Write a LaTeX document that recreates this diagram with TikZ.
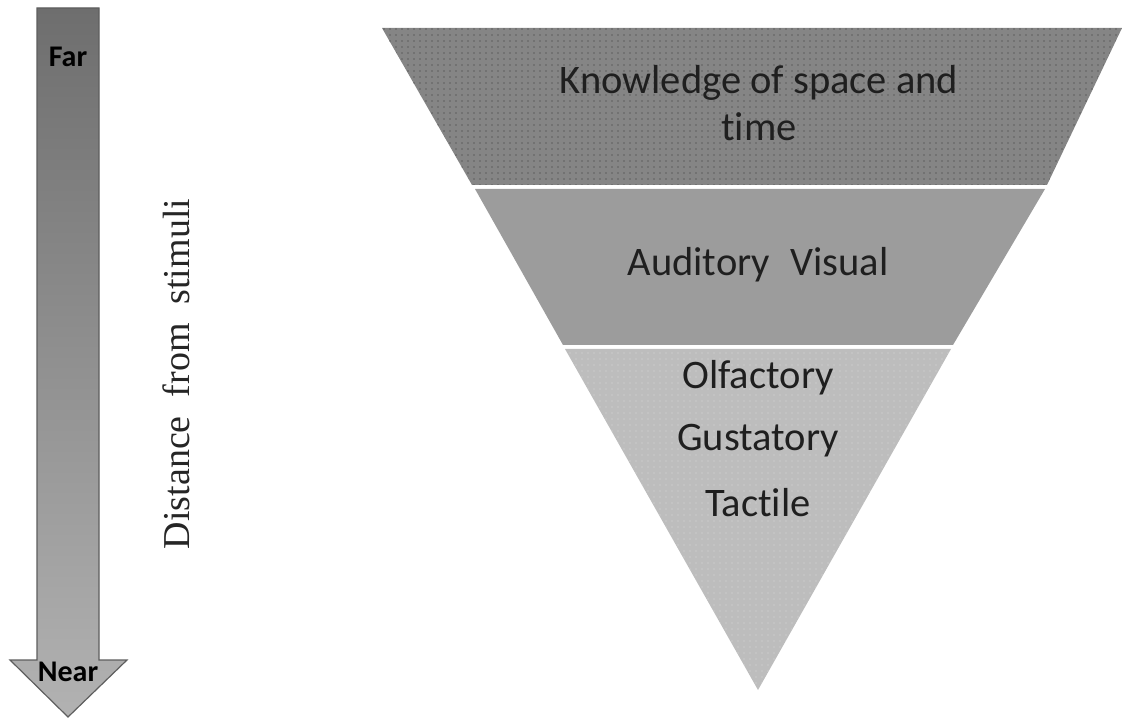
\documentclass[tikz,border=0pt]{standalone}
\usepackage{fontspec}
\setmainfont{Carlito}[Ligatures=NoCommon]
\newfontfamily\timesfont{Liberation Serif}
\usetikzlibrary{positioning, patterns.meta}

\definecolor{arrowtop}{HTML}{6E6E6E}
\definecolor{arrowbot}{HTML}{B2B2B2}
\definecolor{arrowline}{HTML}{5E5E5E}
\definecolor{bandtop}{HTML}{858585}
\definecolor{bandmid}{HTML}{9C9C9C}
\definecolor{bandlow}{HTML}{BDBDBD}

\begin{document}
\begin{tikzpicture}[
    x=1pt, y=-1pt,
    lvl/.style={font=\fontsize{40.5}{47}\selectfont, align=center, text=black!88},
    endlbl/.style={font=\fontsize{30}{36}\bfseries\selectfont, text=black},
    stipple/.style={pattern={Dots[distance=6pt, radius=0.7pt]}, pattern color=#1},
    node distance=62.5pt
  ]
  \useasboundingbox (0,0) rectangle (1122,719);

  % arrow on the left
  \shade[top color=arrowtop, bottom color=arrowbot, draw=arrowline, line width=1.2pt]
    (37,8) -- (99,8) -- (99,660) -- (127,660) -- (68,717) -- (10,660) -- (37,660) -- cycle;
  \node[endlbl] (far) at (68,57) {Far};
  \node[endlbl] (near) at (68,672) {Near};
  \node[rotate=90, font=\timesfont\fontsize{38}{44}\selectfont, text=black!85] (dist) at (176,374)
    {Distance\ \ from\ \ stimuli};

  % the three bands
  \fill[bandtop] (382,28) -- (1122,28) -- (1047,185) -- (472,185) -- cycle;
  \path[stipple=black!60!bandtop] (382,28) -- (1122,28) -- (1047,185) -- (472,185) -- cycle;
  \fill[bandmid] (475,189) -- (1045,189) -- (953,345) -- (563,345) -- cycle;
  \fill[bandlow] (565,349) -- (951,349) -- (758,690) -- cycle;
  \path[stipple=white!45!bandlow] (565,349) -- (951,349) -- (758,690) -- cycle;

  \node[lvl] (know) at (759,103) {Knowledge of space and\\time};
  \node[lvl] (aud) at (758,265) {Auditory\enspace Visual};
  \node[lvl] (olf) at (758,378) {Olfactory};
  \node[lvl] (gus) [below of=olf] {Gustatory};
  \node[lvl] (tac) [below of=gus] {Tactile};
\end{tikzpicture}
\end{document}
